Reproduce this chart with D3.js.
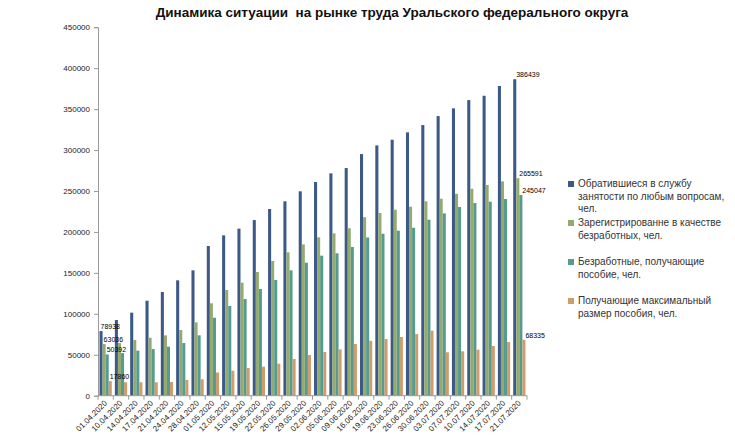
<!DOCTYPE html>
<html><head><meta charset="utf-8">
<script src="https://cdn.jsdelivr.net/npm/d3@7"></script>
<style>body{margin:0;background:#fff}svg{display:block}</style>
</head><body>
<svg id="chart" width="735" height="441"></svg>
<script>
const categories = ["01.04.2020","10.04.2020","14.04.2020","17.04.2020","21.04.2020","24.04.2020","28.04.2020","01.05.2020","12.05.2020","15.05.2020","19.05.2020","22.05.2020","26.05.2020","29.05.2020","02.06.2020","05.06.2020","09.06.2020","16.06.2020","19.06.2020","23.06.2020","26.06.2020","30.06.2020","03.07.2020","07.07.2020","10.07.2020","14.07.2020","17.07.2020","21.07.2020"];
const seriesNames = ["Обратившиеся в службу занятости по любым вопросам, чел.","Зарегистрированне в качестве безработных, чел.","Безработные, получающие пособие, чел.","Получающие максимальный размер пособия, чел."];
const applied = [78938,92400,101400,116000,126600,140900,153100,182800,195800,204000,214500,228000,237400,249600,261000,271500,278000,295100,305700,312600,321600,330500,341500,350900,361000,366300,378200,386439];
const registered = [63036,64500,68000,70800,73700,80200,89600,112800,129000,138000,151000,164500,175100,184800,193400,198300,204400,218000,223100,227100,230800,237400,240500,246600,252700,257300,261800,265591];
const receiving = [50392,52000,55000,57000,59800,64300,73700,95200,109500,118100,130300,141300,153100,162400,171000,173900,181600,193200,197800,201500,205100,214900,222700,230400,235300,236900,240200,245047];
const maxBenefit = [17860,16400,16400,16400,16800,19300,20000,28300,30500,33800,35400,39100,44800,49700,53400,56600,63100,67000,69200,71700,75300,79400,53000,54200,56200,60700,65500,68335];
const yTicks = [0,50000,100000,150000,200000,250000,300000,350000,400000,450000];
const titleText = "Динамика ситуации  на рынке труда Уральского федерального округа";
const legendLines = [["Обратившиеся в службу","занятости по любым вопросам,","чел."],["Зарегистрированне в качестве","безработных, чел."],["Безработные, получающие","пособие, чел."],["Получающие максимальный","размер пособия, чел."]];
const colors = ["#3d5a87","#94ab70","#579a8e","#cf9c6e"];
const allSeries = [applied, registered, receiving, maxBenefit];

const svg = d3.select("#chart");
const plotLeft = 98, plotRight = 527, plotTop = 27.2, plotBottom = 395.7;
const FONT = "'Liberation Sans', Arial, sans-serif";

const x0 = d3.scaleBand().domain(categories).range([plotLeft, plotRight]).paddingInner(0.2).paddingOuter(0.1);
const x1 = d3.scaleBand().domain(d3.range(4)).range([0, x0.bandwidth()]);
const y = d3.scaleLinear().domain([0, 450000]).range([plotBottom, plotTop]);

// title
svg.append("text").attr("x", 392).attr("y", 17).attr("text-anchor","middle")
  .attr("font-family", FONT).attr("font-weight","bold").attr("font-size", 13.5)
  .attr("fill","#111").attr("xml:space","preserve").text(titleText);

// bars
const g = svg.append("g");
categories.forEach((c, i) => {
  allSeries.forEach((s, k) => {
    g.append("rect").attr("x", x0(c) + x1(k)).attr("y", y(s[i]))
      .attr("width", x1.bandwidth()).attr("height", plotBottom - y(s[i])).attr("fill", colors[k]);
  });
});

// y axis
const yAxis = d3.axisLeft(y).tickValues(yTicks).tickFormat(d3.format("d")).tickSize(4).tickPadding(4);
const ya = svg.append("g").attr("transform", `translate(${plotLeft},0)`).call(yAxis);
ya.select(".domain").attr("stroke","#9a9a9a");
ya.selectAll(".tick line").attr("stroke","#9a9a9a");
ya.selectAll("text").attr("font-family", FONT).attr("font-size", 8).attr("fill","#222");

// x axis
svg.append("line").attr("x1", plotLeft).attr("x2", plotRight).attr("y1", plotBottom).attr("y2", plotBottom).attr("stroke","#9a9a9a");
const step = x0.step();
d3.range(categories.length + 1).forEach(i => {
  const xx = plotLeft + i * step;
  svg.append("line").attr("x1", xx).attr("x2", xx).attr("y1", plotBottom).attr("y2", plotBottom + 4).attr("stroke","#9a9a9a");
});
svg.append("g").selectAll("text").data(categories).join("text")
  .attr("transform", d => `translate(${x0(d) + x0.bandwidth()/2 + 2},${plotBottom + 8}) rotate(-45)`)
  .attr("text-anchor","end").attr("font-family", FONT).attr("font-size", 8).attr("fill","#222")
  .text(d => d);

// data labels (first and last groups)
[0, categories.length - 1].forEach(i => {
  allSeries.forEach((s, k) => {
    svg.append("text").attr("x", x0(categories[i]) + x1(k) + (i === 0 ? 1 : 3))
      .attr("y", y(s[i]) - 2).attr("font-family", FONT).attr("font-size", 7).attr("fill","#000")
      .text(s[i]);
  });
});

// legend
const legendY = [187, 226, 265, 304];
legendLines.forEach((lines, k) => {
  svg.append("rect").attr("x", 568).attr("y", legendY[k] - 6).attr("width", 6).attr("height", 6).attr("fill", colors[k]);
  lines.forEach((ln, j) => {
    svg.append("text").attr("x", 578).attr("y", legendY[k] + j * 12.5)
      .attr("font-family", FONT).attr("font-size", 10).attr("fill","#333").text(ln);
  });
});
</script>
</body></html>
